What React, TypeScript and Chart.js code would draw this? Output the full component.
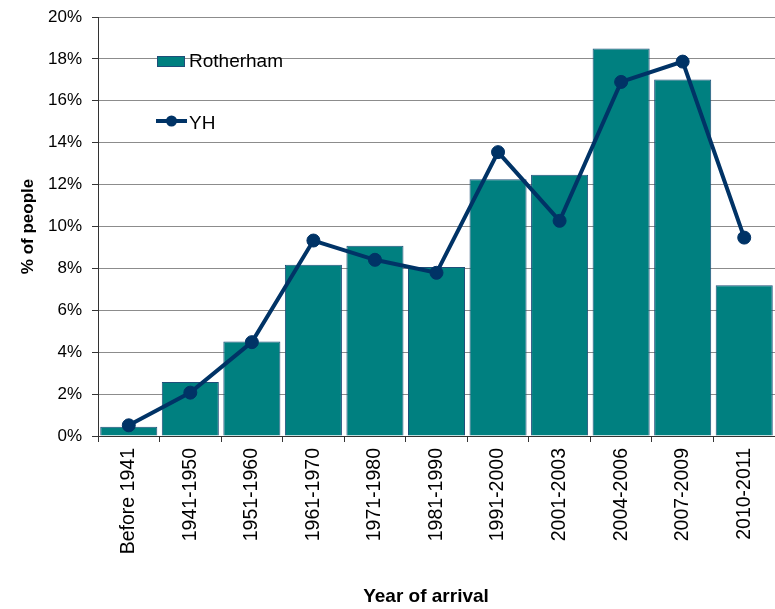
import React, { useEffect, useRef } from 'react';
import { Chart, registerables } from 'chart.js';

Chart.register(...registerables);

const categories = [
  'Before 1941', '1941-1950', '1951-1960', '1961-1970', '1971-1980', '1981-1990',
  '1991-2000', '2001-2003', '2004-2006', '2007-2009', '2010-2011',
];
const rotherham = [0.44, 2.58, 4.51, 8.17, 9.08, 8.07, 12.25, 12.47, 18.5, 17.02, 7.2];
const yh = [0.51, 2.07, 4.48, 9.33, 8.41, 7.79, 13.55, 10.27, 16.9, 17.87, 9.47];
const yMin = 0;
const yMax = 20;
const yStep = 2;
const xTitle = 'Year of arrival';
const yTitle = '% of people';

const FONT = '"Liberation Sans", Arial, sans-serif';
const TEAL = '#008080';
const NAVY = '#003366';
const BAR_BORDER = '#1f4e79';

const stretchPlugin = {
  id: 'stretchRight',
  afterLayout(chart: any) {
    const area = chart.chartArea;
    const right = chart.width;
    area.right = right;
    area.width = right - area.left;
    const x = chart.scales.x;
    x.right = right;
    x.width = right - x.left;
    x.configure();
    chart.scales.y.configure();
  },
};

const overlayPlugin = {
  id: 'overlay',
  afterDraw(chart: any) {
    const ctx = chart.ctx;
    ctx.save();
    // legend: Rotherham
    ctx.fillStyle = TEAL;
    ctx.fillRect(157, 56, 28, 10);
    ctx.strokeStyle = BAR_BORDER;
    ctx.lineWidth = 1;
    ctx.strokeRect(157.5, 56.5, 27, 10);
    ctx.fillStyle = '#000';
    ctx.font = `19px ${FONT}`;
    ctx.textAlign = 'left';
    ctx.textBaseline = 'alphabetic';
    ctx.fillText(chart.data.datasets[0].label, 189, 67);
    // legend: YH
    ctx.strokeStyle = NAVY;
    ctx.lineWidth = 4;
    ctx.beginPath();
    ctx.moveTo(156, 121);
    ctx.lineTo(187, 121);
    ctx.stroke();
    ctx.fillStyle = NAVY;
    ctx.beginPath();
    ctx.arc(171.5, 121, 5.5, 0, Math.PI * 2);
    ctx.fill();
    ctx.fillStyle = '#000';
    ctx.fillText(chart.data.datasets[1].label, 189, 129);
    // x title
    ctx.font = `bold 19px ${FONT}`;
    ctx.textAlign = 'center';
    ctx.textBaseline = 'middle';
    ctx.fillText(xTitle, 426, 597);
    ctx.restore();
  },
};

export default function App() {
  const ref = useRef<HTMLCanvasElement | null>(null);
  useEffect(() => {
    if (!ref.current) return;
    const chart = new Chart(ref.current, {
      type: 'bar',
      data: {
        labels: categories,
        datasets: [
          {
            type: 'bar',
            label: 'Rotherham',
            data: rotherham,
            backgroundColor: TEAL,
            borderColor: BAR_BORDER,
            borderWidth: 1,
            barPercentage: 0.927,
            categoryPercentage: 1,
            order: 2,
          },
          {
            type: 'line',
            label: 'YH',
            data: yh,
            borderColor: NAVY,
            backgroundColor: NAVY,
            borderWidth: 4,
            pointRadius: 6.5,
            pointBorderWidth: 1,
            pointBackgroundColor: NAVY,
            pointBorderColor: NAVY,
            tension: 0,
            clip: false,
            order: 1,
          },
        ] as any,
      },
      options: {
        responsive: false,
        animation: false,
        layout: { padding: { top: 17, right: 0, left: 0, bottom: 0 } },
        plugins: {
          legend: { display: false },
          tooltip: { enabled: false },
        },
        scales: {
          x: {
            offset: true,
            grid: {
              offset: true,
              drawOnChartArea: false,
              drawTicks: true,
              tickLength: 6,
              color: '#333',
            },
            border: { color: '#333', width: 1 },
            ticks: {
              autoSkip: false,
              maxRotation: 90,
              minRotation: 90,
              padding: 6,
              color: '#000',
              font: { family: FONT, size: 19.5 },
            },
            afterFit(scale: any) {
              scale.height = 173;
            },
          },
          y: {
            min: yMin,
            max: yMax,
            grid: {
              color: '#8c8c8c',
              tickLength: 6,
              tickColor: '#333',
            },
            border: { color: '#333', width: 1 },
            ticks: {
              stepSize: yStep,
              padding: 10,
              color: '#000',
              font: { family: FONT, size: 17 },
              callback: (v: any) => `${v}%`,
            },
            title: {
              display: true,
              text: yTitle,
              color: '#000',
              font: { family: FONT, size: 17, weight: 'bold' },
              padding: { top: 18, bottom: 0 },
            },
            afterFit(scale: any) {
              scale.width = 98;
              scale.paddingTop = 0;
              scale.paddingBottom = 0;
            },
          },
        },
      } as any,
      plugins: [stretchPlugin, overlayPlugin],
    });
    return () => chart.destroy();
  }, []);
  return (
    <div style={{ position: 'absolute', left: 0, top: 0, width: 775, height: 609, background: '#fff' }}>
      <canvas ref={ref} width={775} height={609} style={{ display: 'block' }} />
    </div>
  );
}
